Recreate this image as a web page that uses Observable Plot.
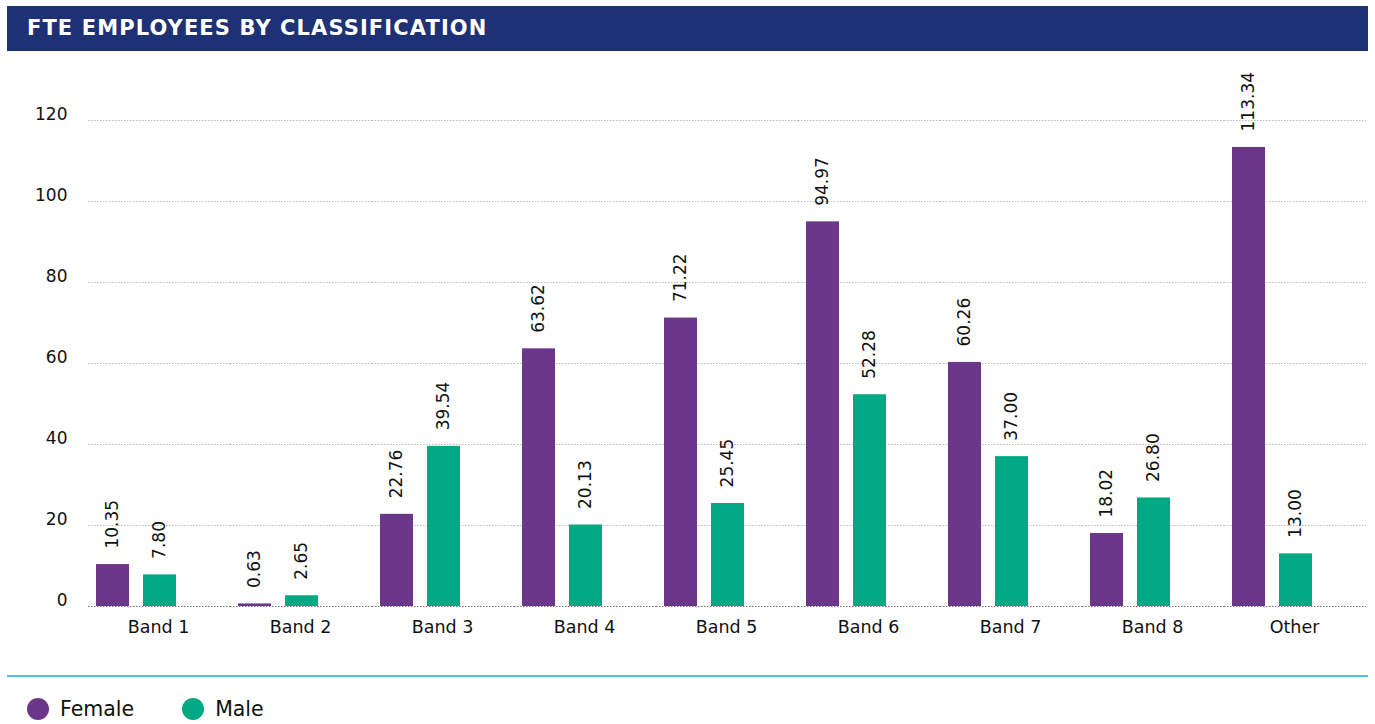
<!DOCTYPE html>
<html><head><meta charset="utf-8">
<script src="https://cdn.jsdelivr.net/npm/d3@7"></script>
<script src="https://cdn.jsdelivr.net/npm/@observablehq/plot@0.6"></script>
<style>
body{margin:0;background:#fff;font-family:"DejaVu Sans",sans-serif;width:1375px;height:724px;overflow:hidden;position:relative}
#title{position:absolute;left:7px;top:6px;width:1361px;height:45px;background:#1F3175;color:#fff;font-weight:700;font-size:21px;line-height:45px;padding-left:20px;box-sizing:border-box;letter-spacing:1.1px}
#chart{position:absolute;left:0;top:51px}
#rule{position:absolute;left:7px;top:675px;width:1361px;height:2px;background:#4FC3E8}
#legend{position:absolute;left:27px;top:697px;display:flex;align-items:center;font-size:20.5px;color:#111;height:24px}
.item{display:flex;align-items:center;margin-right:48px}
.dot{width:22px;height:22px;border-radius:50%;margin-right:11px}
</style>
</head><body>
<div id="title">FTE EMPLOYEES BY CLASSIFICATION</div>
<div id="chart"></div>
<div id="rule"></div>
<div id="legend"></div>
<script>
const categories = ["Band 1","Band 2","Band 3","Band 4","Band 5","Band 6","Band 7","Band 8","Other"];
const female = [10.35,0.63,22.76,63.62,71.22,94.97,60.26,18.02,113.34];
const male = [7.80,2.65,39.54,20.13,25.45,52.28,37.00,26.80,13.00];
const series = ["Female","Male"];
const colors = ["#6C368B","#00A884"];
const yTicks = [0,20,40,60,80,100,120];

const data = categories.flatMap((c,i)=>[
  {category:c, sex:"Female", value:female[i]},
  {category:c, sex:"Male", value:male[i]}
]);

const chart = Plot.plot({
  width:1375, height:595,
  marginLeft:87, marginRight:8, marginTop:69, marginBottom:40,
  style:{fontFamily:"DejaVu Sans", fontSize:"16px", color:"#111", background:"transparent"},
  fx:{domain:categories, padding:0, label:null, axis:null},
  x:{domain:[...series,"_"], paddingInner:0.3, paddingOuter:0.15, axis:null},
  y:{domain:[0,120], label:null, axis:null},
  color:{domain:series, range:colors},
  marks:[
    Plot.ruleY(yTicks.filter(d=>d>0), {stroke:"#bbb", strokeDasharray:"1.5,1.5"}),
    Plot.ruleY([0], {stroke:"#777", strokeDasharray:"1.5,1.5"}),
    Plot.axisY(yTicks, {tickSize:0, tickPadding:21, dy:-6, fontSize:17, label:null}),
    Plot.axisFx({anchor:"bottom", tickSize:0, tickPadding:14, fontSize:17.5, label:null, dx:-1}),
    Plot.barY(data, {fx:"category", x:"sex", y:"value", fill:"sex"}),
    Plot.text(data, {fx:"category", x:"sex", y:"value", text:d=>d.value.toFixed(2), rotate:-90, textAnchor:"start", dy:-16, fontSize:17, fill:"#111"})
  ]
});
document.getElementById("chart").appendChild(chart);

const legend = document.getElementById("legend");
series.forEach((s,i)=>{
  const it = document.createElement("div"); it.className="item";
  const d = document.createElement("div"); d.className="dot"; d.style.background=colors[i];
  const t = document.createElement("span"); t.textContent=s;
  it.appendChild(d); it.appendChild(t); legend.appendChild(it);
});
</script>
</body></html>
